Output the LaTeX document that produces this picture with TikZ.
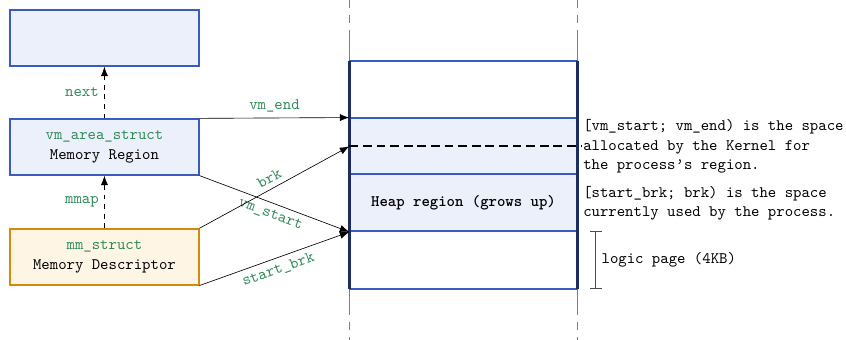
\documentclass[tikz,border=0pt]{standalone}
\usepackage{fontspec}
\usetikzlibrary{positioning,arrows.meta}

\definecolor{fieldgreen}{HTML}{2E8B57}
\definecolor{regblue}{HTML}{3B5BBF}
\definecolor{regfill}{HTML}{ECF0FB}
\definecolor{pagenavy}{HTML}{1E2D5F}
\definecolor{descorange}{HTML}{D48A0A}
\definecolor{descfill}{HTML}{FFF5E4}

\begin{document}
\begin{tikzpicture}[font=\ttfamily, >={Latex[length=6pt,width=4.5pt]}]

% height of one logic page
\def\pg{1.25cm}
% node style definition
\tikzstyle{region} = [
	draw=regblue, fill=regfill, thick, rectangle, align=center,
	minimum width=4.15cm, minimum height=1.23cm ];
\tikzstyle{descr} = [region, draw=descorange, fill=descfill];
\tikzstyle{page} = [
	rectangle, inner sep=0pt,
	minimum width=5cm, minimum height=\pg ];
\tikzstyle{pageline} = [draw=regblue, line width=1.3pt];
\tikzstyle{field} = [text=fieldgreen];
\tikzstyle{guide} = [draw=black!50, semithick];
\tikzstyle{note} = [align=left];

\useasboundingbox (0,0) rectangle (18.59,7.47);

% kernel structures
\node[region] (nxt) at (2.295,6.635) {};
\node[region] (vma) at (2.295,4.24) {\textcolor{fieldgreen}{vm\_area\_struct}\\Memory Region};
\node[descr] (mm) at (2.295,1.825) {\textcolor{fieldgreen}{mm\_struct}\\Memory Descriptor};

% address space, one row per page
\foreach \i/\f in {1/white,2/regfill,3/regfill,4/white}
	\node[page, fill=\f] (p\i) at (10.185,{6.755-1.25*\i}) {};

% guides above and below the address space
\foreach \a in {west,east} {
	\draw[guide] (p1.north \a) -- ++(0,0.62) coordinate (t\a);
	\draw[guide, dash pattern=on 5pt off 4.5pt] ([yshift=0.72cm]t\a) -- (t\a);
	\draw[guide] (p4.south \a) -- ++(0,-0.55) coordinate (b\a);
	\draw[guide, dash pattern=on 5pt off 4.5pt, dash phase=4.5pt] (b\a) -- ++(0,-0.6);
}

\foreach \i in {1,...,4}
	\draw[pageline] (p\i.north west) -- (p\i.north east);
\draw[pageline] (p4.south west) -- (p4.south east);
\node at (p3) {\bfseries Heap region (grows up)};
\draw[pagenavy, line width=1.4pt] (p1.north west) -- (p4.south west);
\draw[pagenavy, line width=1.4pt] (p1.north east) -- (p4.south east);
\draw[line width=1.2pt, dash pattern=on 5.5pt off 3pt] (p2.west) -- ([xshift=2pt]p2.east);

% pointers
\draw[->, dashed] (vma.north) -- (nxt.south) node[midway, left, field] {next};
\draw[->, dashed] (mm.north) -- (vma.south) node[midway, left, field] {mmap};

\draw[->] (vma.north east) -- (p2.north west) node[midway, above, field] {vm\_end};
\draw[->] (vma.south east) -- (p3.south west) node[midway, below, sloped, field] {vm\_start};
\draw[->] (mm.north east) -- (p2.west) node[midway, above, sloped, field] {brk};
\draw[->] (mm.south east) -- (p3.south west) node[midway, below, sloped, field] {start\_brk};

% notes
\node[note, right=0pt of p2.east] (n1) {[vm\_start; vm\_end) is the space\\allocated by the Kernel for\\the process’s region.};
\node[note, right=0pt of p3.east] (n2) {[start\_brk; brk) is the space\\currently used by the process.};

\draw[{Bar[width=7.5pt]}-{Bar[width=7.5pt]}, black!70, semithick]
	([xshift=0.4cm]p4.north east) -- ([xshift=0.4cm]p4.south east)
	node[midway, right, text=black] {logic page (4KB)};

\end{tikzpicture}
\end{document}
